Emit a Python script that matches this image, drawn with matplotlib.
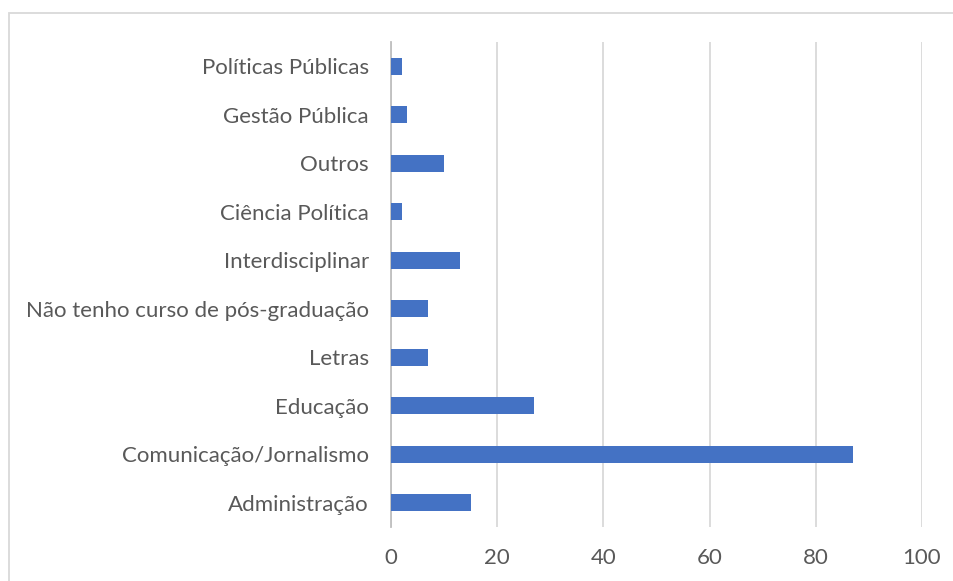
import matplotlib
matplotlib.use("Agg")
from matplotlib import pyplot as plt
from matplotlib.patches import Rectangle

areas = ["Administração", "Comunicação/Jornalismo", "Educação", "Letras",
         "Não tenho curso de pós-graduação", "Interdisciplinar",
         "Ciência Política", "Outros", "Gestão Pública", "Políticas Públicas"]
counts = [15, 87, 27, 7, 7, 13, 2, 10, 3, 2]
xticks = [0, 20, 40, 60, 80, 100]

plt.rcParams['font.family'] = ['Lato', 'DejaVu Sans']
text_color = '#595959'

fig = plt.figure(figsize=(9.54, 5.81), dpi=100)
ax = fig.add_axes([391/954, 1-527/581, (922-391)/954, (527-42)/581])

pos = range(len(areas))
ax.barh(pos, counts, height=0.35, color='#4472C4', zorder=3)
ax.set_ylim(-0.5, len(areas)-0.5)
ax.set_xlim(0, 100)
ax.set_xticks(xticks)
ax.set_yticks(list(pos))
ax.set_yticklabels(areas)
ax.grid(axis='x', color='#d9d9d9', linewidth=1.3, zorder=0)
for s in ['top', 'right', 'bottom']:
    ax.spines[s].set_visible(False)
ax.spines['left'].set_color('#bfbfbf')
ax.spines['left'].set_linewidth(1.3)
ax.tick_params(axis='both', length=0, labelsize=16, colors=text_color)
ax.tick_params(axis='x', pad=15)
ax.tick_params(axis='y', pad=16)

# outer chart frame
fig.patches.append(Rectangle((9/954, -0.1), 1.1, 1.1 - 13/581,
                             transform=fig.transFigure, fill=False,
                             edgecolor='#d9d9d9', linewidth=1.3))

fig.savefig('out.png', dpi=100)
